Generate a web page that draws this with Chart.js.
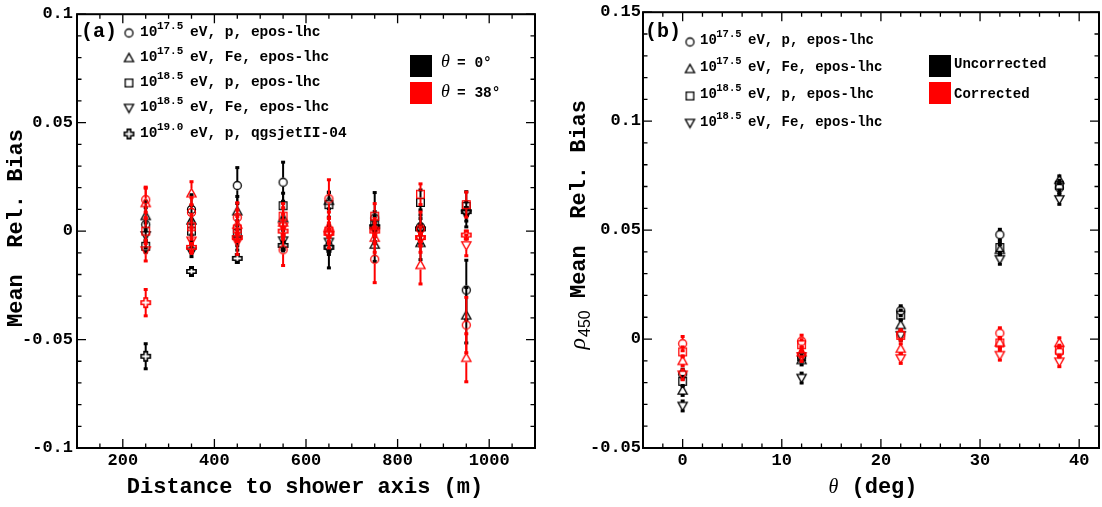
<!DOCTYPE html>
<html><head><meta charset="utf-8">
<script src="https://cdn.jsdelivr.net/npm/chart.js@4.4.1/dist/chart.umd.min.js"></script>
<style>
html,body{margin:0;padding:0;background:#fff;width:1102px;height:507px;overflow:hidden;}
#cA{position:absolute;left:0;top:0;}
#cB{position:absolute;left:545px;top:0;}
</style></head><body>
<canvas id="cA" width="545" height="507"></canvas>
<canvas id="cB" width="557" height="507"></canvas>
<script>
// ================= DATA =================
// Panel (a): distance to shower axis (m)
const distances = [250, 350, 450, 550, 650, 750, 850, 950];
// theta = 0 deg (black)
const a0_p175  = [0.003, 0.010, 0.021, 0.0225, -0.0072, 0.006, 0.002, -0.0272];
const a0_p175e = [0.008, 0.007, 0.0085, 0.0095, 0.010, 0.012, 0.008, 0.014];
const a0_fe175  = [0.007, 0.005, 0.0092, 0.006, 0.014, -0.0062, -0.0054, -0.0388];
const a0_fe175e = [0.007, 0.007, 0.007, 0.008, 0.004, 0.008, 0.008, 0.013];
const a0_p185  = [-0.007, 0.000, -0.001, 0.0117, 0.0122, 0.0032, 0.0132, 0.0114];
const a0_p185e = [0.003, 0.005, 0.006, 0.006, 0.006, 0.006, 0.006, 0.007];
const a0_fe185  = [-0.002, -0.0095, -0.004, -0.0044, -0.005, 0.001, 0.000, 0.0077];
const a0_fe185e = [0.006, 0.0025, 0.005, 0.005, 0.006, 0.006, 0.006, 0.006];
const a0_p190  = [-0.0577, -0.0186, -0.0126, -0.0066, -0.0075, 0.002, 0.001, 0.009];
const a0_p190e = [0.006, 0.002, 0.002, 0.002, 0.002, 0.002, 0.002, 0.002];
// theta = 38 deg (red)
const a38_p175  = [0.0145, 0.0086, 0.0063, -0.0086, 0.0149, -0.013, 0.001, -0.0433];
const a38_p175e = [0.006, 0.007, 0.007, 0.0075, 0.009, 0.011, 0.008, 0.013];
const a38_fe175  = [0.013, 0.0175, 0.003, 0.004, 0.002, -0.003, -0.0156, -0.0584];
const a38_fe175e = [0.007, 0.0055, 0.007, 0.007, 0.007, 0.007, 0.009, 0.0113];
const a38_p185  = [0.000, 0.002, 0.001, 0.0069, 0.000, 0.0069, 0.017, 0.0122];
const a38_p185e = [0.006, 0.006, 0.006, 0.006, 0.006, 0.006, 0.005, 0.006];
const a38_fe185  = [-0.009, -0.0045, -0.005, 0.002, -0.002, 0.000, -0.004, -0.0066];
const a38_fe185e = [0.005, 0.006, 0.006, 0.006, 0.006, 0.006, 0.006, 0.005];
const a38_p190  = [-0.033, -0.0075, -0.003, 0.000, -0.001, 0.000, -0.003, -0.0018];
const a38_p190e = [0.0063, 0.002, 0.002, 0.002, 0.002, 0.002, 0.002, 0.002];

// Panel (b): zenith angle (deg)
const zeniths = [0, 12, 22, 32, 38];
// uncorrected (black)
const bu_p175  = [-0.0161, -0.008, 0.013, 0.0479, 0.0694];
const bu_p175e = [0.0025, 0.0025, 0.0025, 0.0027, 0.0025];
const bu_fe175  = [-0.0236, -0.0096, 0.0065, 0.041, 0.0731];
const bu_fe175e = [0.0025, 0.0025, 0.0025, 0.0025, 0.002];
const bu_p185  = [-0.0194, -0.0081, 0.011, 0.042, 0.0706];
const bu_p185e = [0.0025, 0.0025, 0.0025, 0.0025, 0.0025];
const bu_fe185  = [-0.0307, -0.0179, 0.0017, 0.0366, 0.0641];
const bu_fe185e = [0.0025, 0.0025, 0.0025, 0.0025, 0.0025];
// corrected (red)
const bc_p175  = [-0.0021, -0.001, 0.002, 0.0027, -0.0059];
const bc_p175e = [0.0035, 0.003, 0.0025, 0.0027, 0.0025];
const bc_fe175  = [-0.010, -0.006, -0.0044, -0.0015, -0.0017];
const bc_fe175e = [0.0025, 0.0025, 0.0025, 0.0025, 0.0025];
const bc_p185  = [-0.0059, -0.0026, 0.0017, -0.0018, -0.0051];
const bc_p185e = [0.0025, 0.0025, 0.0025, 0.0025, 0.0025];
const bc_fe185  = [-0.0164, -0.008, -0.0089, -0.0074, -0.0104];
const bc_fe185e = [0.0025, 0.0025, 0.0025, 0.0025, 0.0025];

// tick labels
const xTickValsA = [200, 400, 600, 800, 1000];
const xTickTextA = ['200', '400', '600', '800', '1000'];
const yTickValsA = [-0.1, -0.05, 0, 0.05, 0.1];
const yTickTextA = ['-0.1', '-0.05', '0', '0.05', '0.1'];
const xTickValsB = [0, 10, 20, 30, 40];
const xTickTextB = ['0', '10', '20', '30', '40'];
const yTickValsB = [-0.05, 0, 0.05, 0.1, 0.15];
const yTickTextB = ['-0.05', '0', '0.05', '0.1', '0.15'];

// legend texts
const legendExp  = ['17.5', '17.5', '18.5', '18.5', '19.0'];
const legendText = ['eV, p, epos-lhc', 'eV, Fe, epos-lhc', 'eV, p, epos-lhc', 'eV, Fe, epos-lhc', 'eV, p, qgsjetII-04'];
const angleLabels = ['= 0\u00B0', '= 38\u00B0'];
const corrLabels = ['Uncorrected', 'Corrected'];
const xTitleA = 'Distance to shower axis (m)';
const yTitleA = 'Mean  Rel. Bias';
const xTitleB = ' (deg)';
const yTitleB = ' Mean  Rel. Bias';

// ================= STYLE =================
const BLACK = '#000000', RED = '#ff0000';
const MONO = '"Liberation Mono", "DejaVu Sans Mono", monospace';
const SERIF = '"Liberation Serif", "DejaVu Serif", serif';
const SANS = '"Liberation Sans", Arial, sans-serif';

function marker(shape, color) {
  const c = document.createElement('canvas');
  c.width = 13; c.height = 13;
  const g = c.getContext('2d');
  g.strokeStyle = color; g.lineWidth = 1.3; g.lineJoin = 'miter';
  g.translate(6.5, 6.5);
  g.beginPath();
  if (shape === 'circle') g.arc(0, 0, 4, 0, 2 * Math.PI);
  else if (shape === 'tri') { g.moveTo(0, -4.6); g.lineTo(4.6, 3.6); g.lineTo(-4.6, 3.6); g.closePath(); }
  else if (shape === 'dtri') { g.moveTo(0, 4.6); g.lineTo(-4.6, -3.6); g.lineTo(4.6, -3.6); g.closePath(); }
  else if (shape === 'square') g.rect(-3.8, -3.8, 7.6, 7.6);
  else if (shape === 'cross') {
    const a = 4.6, b = 1.7; g.lineWidth = 1.6;
    const p = [[-b,-a],[b,-a],[b,-b],[a,-b],[a,b],[b,b],[b,a],[-b,a],[-b,b],[-a,b],[-a,-b],[-b,-b]];
    g.moveTo(p[0][0], p[0][1]); for (let i = 1; i < p.length; i++) g.lineTo(p[i][0], p[i][1]); g.closePath();
  }
  g.stroke();
  return c;
}
const MK = {};
['circle','tri','square','dtri','cross'].forEach(s => { MK[s + 'B'] = marker(s, BLACK); MK[s + 'R'] = marker(s, RED); });

function pts(xs, ys, es) { return xs.map((x, i) => ({ x: x, y: ys[i], e: es[i] })); }
function ds(xs, ys, es, shape, color) {
  return { data: pts(xs, ys, es), pointStyle: MK[shape + (color === BLACK ? 'B' : 'R')],
    pointRadius: 5, borderColor: color, backgroundColor: 'rgba(0,0,0,0)', showLine: false };
}

const errorBars = {
  id: 'errorBars',
  beforeDatasetDraw(chart, args) {
    const d = chart.data.datasets[args.index];
    const xs = chart.scales.x, ys = chart.scales.y, ctx = chart.ctx, a = chart.chartArea;
    ctx.save();
    ctx.beginPath(); ctx.rect(a.left, a.top, a.right - a.left, a.bottom - a.top); ctx.clip();
    ctx.strokeStyle = d.borderColor; ctx.fillStyle = d.borderColor; ctx.lineWidth = 2;
    const gap = 4.6;
    d.data.forEach(p => {
      const px = xs.getPixelForValue(p.x), py = ys.getPixelForValue(p.y);
      const yt = ys.getPixelForValue(p.y + p.e), yb = ys.getPixelForValue(p.y - p.e);
      ctx.beginPath();
      if (py - gap > yt) { ctx.moveTo(px, yt); ctx.lineTo(px, py - gap); }
      if (py + gap < yb) { ctx.moveTo(px, py + gap); ctx.lineTo(px, yb); }
      ctx.stroke();
      ctx.fillRect(px - 2, yt - 1, 4, 3);
      ctx.fillRect(px - 2, yb - 2, 4, 3);
    });
    ctx.restore();
  }
};

const frameTicks = {
  id: 'frameTicks',
  afterDraw(chart) {
    const ctx = chart.ctx, a = chart.chartArea, x = chart.scales.x, y = chart.scales.y;
    ctx.save(); ctx.strokeStyle = '#000'; ctx.lineWidth = 1.3;
    ctx.beginPath();
    x.ticks.forEach(t => {
      const p = x.getPixelForValue(t.value), L = t.label !== '' ? 9 : 4.5;
      ctx.moveTo(p, a.bottom); ctx.lineTo(p, a.bottom - L);
      ctx.moveTo(p, a.top); ctx.lineTo(p, a.top + L);
    });
    y.ticks.forEach(t => {
      const p = y.getPixelForValue(t.value), L = t.label !== '' ? 9 : 4.5;
      ctx.moveTo(a.left, p); ctx.lineTo(a.left + L, p);
      ctx.moveTo(a.right, p); ctx.lineTo(a.right - L, p);
    });
    ctx.stroke();
    ctx.lineWidth = 2;
    ctx.strokeRect(a.left, a.top, a.right - a.left, a.bottom - a.top);
    ctx.restore();
  }
};

function axisOpts(axis, min, max, step, vals, texts, pad, fit) {
  return {
    type: 'linear', position: axis === 'x' ? 'bottom' : 'left', min: min, max: max,
    grid: { display: false, drawTicks: false }, border: { display: false },
    afterBuildTicks: s => {
      const out = [], k0 = Math.round(min / step), k1 = Math.round(max / step);
      for (let k = k0; k <= k1; k++) out.push({ value: +(k * step).toFixed(6) });
      s.ticks = out;
    },
    afterFit: s => { if (axis === 'x') s.height = fit; else s.width = fit; },
    ticks: {
      autoSkip: false, maxRotation: 0, minRotation: 0, padding: pad, color: '#000',
      font: { family: MONO, size: 17, weight: 'bold' },
      callback: v => { const i = vals.findIndex(t => Math.abs(t - v) < 1e-9); return i < 0 ? '' : texts[i]; }
    }
  };
}

function legendRows(ctx, shapes, mx, rowY, baseY, x10, fs, efs, xRest) {
  shapes.forEach((s, i) => {
    ctx.drawImage(MK[s + 'B'], mx - 6.5, rowY[i] - 6.5);
    ctx.font = `bold ${fs}px ${MONO}`; ctx.textAlign = 'left'; ctx.textBaseline = 'alphabetic';
    ctx.fillText('10', x10, baseY[i]);
    const w = ctx.measureText('10').width;
    ctx.font = `bold ${efs}px ${MONO}`;
    ctx.fillText(legendExp[i], x10 + w - 0.5, baseY[i] - 7);
    ctx.font = `bold ${fs}px ${MONO}`;
    ctx.fillText(legendText[i], xRest, baseY[i]);
  });
}

// ---- panel (a) decorations ----
const decoA = {
  id: 'decoA',
  afterDraw(chart) {
    const ctx = chart.ctx;
    ctx.save(); ctx.fillStyle = '#000';
    ctx.font = `bold 22px ${MONO}`; ctx.textAlign = 'center'; ctx.textBaseline = 'alphabetic';
    ctx.fillText(xTitleA, 305, 493);
    ctx.save(); ctx.translate(16.5, 228); ctx.rotate(-Math.PI / 2);
    ctx.textBaseline = 'middle'; ctx.fillText(yTitleA, 0, 0); ctx.restore();
    ctx.textAlign = 'left'; ctx.textBaseline = 'middle'; ctx.font = `bold 20px ${MONO}`;
    ctx.fillText('(a)', 81, 32);
    legendRows(ctx, ['circle','tri','square','dtri','cross'], 129, [33, 58, 83, 108, 134], [36, 61, 86, 111, 137], 140, 14.5, 11, 190);
    // theta legend
    const sq = [[BLACK, 55], [RED, 82]], tb = [67, 97];
    sq.forEach((s, i) => {
      ctx.fillStyle = s[0]; ctx.fillRect(410, s[1], 22, 22);
      ctx.fillStyle = '#000'; ctx.textBaseline = 'alphabetic';
      ctx.font = `italic 18px ${SERIF}`; ctx.fillText('\u03B8', 441, tb[i]);
      ctx.font = `bold 14.5px ${MONO}`; ctx.fillText(angleLabels[i], 457, tb[i]);
    });
    ctx.restore();
  }
};

// ---- panel (b) decorations ----
const OX = 545;
const decoB = {
  id: 'decoB',
  afterDraw(chart) {
    const ctx = chart.ctx;
    ctx.save(); ctx.fillStyle = '#000';
    // x title: theta (deg)
    ctx.textAlign = 'left'; ctx.textBaseline = 'alphabetic';
    ctx.font = `italic 20px ${SERIF}`; const w1 = ctx.measureText('\u03B8').width;
    ctx.font = `bold 22px ${MONO}`; const w2 = ctx.measureText(xTitleB).width;
    const sx = 873 - OX - (w1 + w2) / 2;
    ctx.font = `italic 20px ${SERIF}`; ctx.fillText('\u03B8', sx, 493);
    ctx.font = `bold 22px ${MONO}`; ctx.fillText(xTitleB, sx + w1, 493);
    // y title: rho_450 Mean Rel. Bias (end at page y=100)
    ctx.save(); ctx.translate(578 - OX, 100); ctx.rotate(-Math.PI / 2);
    ctx.font = `italic 24px ${SERIF}`; const r1 = ctx.measureText('\u03C1').width;
    ctx.font = `16px ${SANS}`; const r2 = ctx.measureText('450').width;
    ctx.font = `bold 22px ${MONO}`; const r3 = ctx.measureText(yTitleB).width;
    let x0 = -(r1 + r2 + r3);
    ctx.font = `italic 24px ${SERIF}`; ctx.fillText('\u03C1', x0, 6.5);
    ctx.font = `16px ${SANS}`; ctx.fillText('450', x0 + r1 + 1, 11.5);
    ctx.font = `bold 22px ${MONO}`; ctx.fillText(yTitleB, x0 + r1 + r2, 6.5);
    ctx.restore();
    ctx.textBaseline = 'middle'; ctx.font = `bold 20px ${MONO}`;
    ctx.fillText('(b)', 645 - OX, 32);
    legendRows(ctx, ['circle','tri','square','dtri'], 690 - OX, [42, 69, 96, 123], [44, 71, 98, 126], 700 - OX, 14, 10.5, 748 - OX);
    const sq = [[BLACK, 55], [RED, 82]], tb = [68, 98];
    sq.forEach((s, i) => {
      ctx.fillStyle = s[0]; ctx.fillRect(929 - OX, s[1], 22, 22);
      ctx.fillStyle = '#000'; ctx.textBaseline = 'alphabetic';
      ctx.font = `bold 14px ${MONO}`; ctx.fillText(corrLabels[i], 954 - OX, tb[i]);
    });
    ctx.restore();
  }
};

function makeChart(id, datasets, padding, xo, yo, deco) {
  return new Chart(document.getElementById(id), {
    type: 'scatter',
    data: { datasets: datasets },
    options: {
      responsive: false, animation: false, devicePixelRatio: 1, events: [],
      layout: { autoPadding: false, padding: padding },
      plugins: { legend: { display: false }, tooltip: { enabled: false } },
      scales: { x: xo, y: yo }
    },
    plugins: [errorBars, frameTicks, deco]
  });
}

// red drawn on top of black (Chart.js draws dataset 0 last)
const dsA = [
  ds(distances, a38_p175, a38_p175e, 'circle', RED),
  ds(distances, a38_fe175, a38_fe175e, 'tri', RED),
  ds(distances, a38_p185, a38_p185e, 'square', RED),
  ds(distances, a38_fe185, a38_fe185e, 'dtri', RED),
  ds(distances, a38_p190, a38_p190e, 'cross', RED),
  ds(distances, a0_p175, a0_p175e, 'circle', BLACK),
  ds(distances, a0_fe175, a0_fe175e, 'tri', BLACK),
  ds(distances, a0_p185, a0_p185e, 'square', BLACK),
  ds(distances, a0_fe185, a0_fe185e, 'dtri', BLACK),
  ds(distances, a0_p190, a0_p190e, 'cross', BLACK)
];
const dsB = [
  ds(zeniths, bc_p175, bc_p175e, 'circle', RED),
  ds(zeniths, bc_fe175, bc_fe175e, 'tri', RED),
  ds(zeniths, bc_p185, bc_p185e, 'square', RED),
  ds(zeniths, bc_fe185, bc_fe185e, 'dtri', RED),
  ds(zeniths, bu_p175, bu_p175e, 'circle', BLACK),
  ds(zeniths, bu_fe175, bu_fe175e, 'tri', BLACK),
  ds(zeniths, bu_p185, bu_p185e, 'square', BLACK),
  ds(zeniths, bu_fe185, bu_fe185e, 'dtri', BLACK)
];

makeChart('cA', dsA, { left: 0, right: 10, top: 6, bottom: 0 },
  axisOpts('x', 100, 1100, 50, xTickValsA, xTickTextA, 3, 59),
  axisOpts('y', -0.1, 0.1, 0.01, yTickValsA, yTickTextA, 4, 77), decoA);
makeChart('cB', dsB, { left: 0, right: 1, top: 6, bottom: 0 },
  axisOpts('x', -4, 42, 2, xTickValsB, xTickTextB, 3, 59),
  axisOpts('y', -0.05, 0.15, 0.01, yTickValsB, yTickTextB, 2, 98), decoB);
</script>
</body></html>
